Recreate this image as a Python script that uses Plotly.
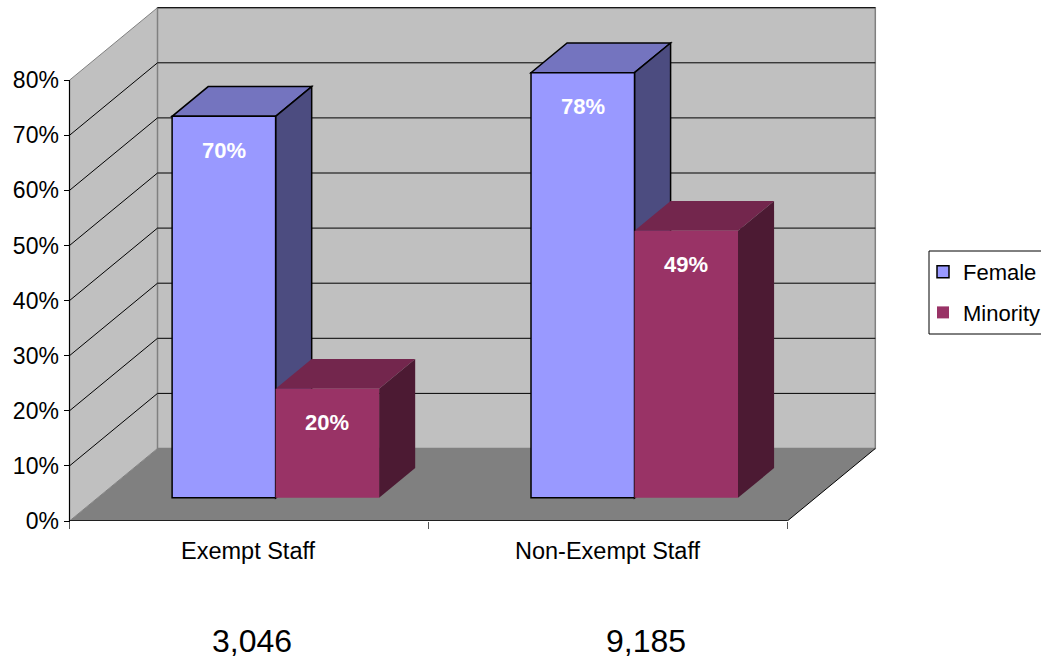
import plotly.graph_objects as go

# ---------------- data ----------------
categories = ["Exempt Staff", "Non-Exempt Staff"]
headcounts = ["3,046", "9,185"]
female = [70, 78]
minority = [20, 49]
series_names = ["Female", "Minority"]
y_ticks = [0, 10, 20, 30, 40, 50, 60, 70, 80]
y_tick_labels = [f"{v}%" for v in y_ticks]

# ---------------- styling / geometry ----------------
FONT = "Liberation Sans, Arial, sans-serif"
W, H = 1041, 658
ML, MR, MT, MB = 60, 150, 4, 137
plot_w = W - ML - MR
plot_h = H - MT - MB
bottom_px = H - MB

slot_px = 358.9          # width of one category slot on the front plane
front_left_px = 69.5     # pixel x of the front-left corner of the floor
x_range = [-0.5 + (ML - front_left_px) / slot_px,
           -0.5 + (W - MR - front_left_px) / slot_px]

py_wall = 5.51           # px per percent on the wall axis
py_bar = 5.45            # px per percent on the bar axis
y_range = [0, plot_h / py_wall]
y2_range = [0, plot_h / py_bar]

DEPTH_DX_PX, DEPTH_DY_PX = 88, 72.5
DX = DEPTH_DX_PX / slot_px
DY1 = DEPTH_DY_PX / py_wall
DY2 = DEPTH_DY_PX / py_bar

BAR_FRONT = 0.32         # depth fraction of the bars' front face
BAR_DEPTH = 0.41         # depth fraction of the bars
BAR_W = 103.5 / slot_px
PAIR_SHIFT = -1.5 / slot_px
YMAX = y_ticks[-1]

WALL = "#C0C0C0"
FLOOR = "#808080"
EDGE = "#808080"

colors = {
    "Female": dict(front="#9999FF", top="#7474BF", side="#4C4C80", line="black", lw=1.5),
    "Minority": dict(front="#993366", top="#73264D", side="#4C1A33", line="rgba(0,0,0,0)", lw=0),
}

shapes = []


def poly(pts, yref, fill, line_color="rgba(0,0,0,0)", lw=0, layer="below"):
    path = "M " + " L ".join(f"{x},{y}" for x, y in pts) + " Z"
    shapes.append(dict(type="path", path=path, xref="x", yref=yref, fillcolor=fill,
                       line=dict(color=line_color, width=lw), layer=layer))


def seg(p0, p1, yref, color, width=1, layer="below"):
    shapes.append(dict(type="line", xref="x", yref=yref, x0=p0[0], y0=p0[1], x1=p1[0], y1=p1[1],
                       line=dict(color=color, width=width), layer=layer))


xl, xr = -0.5, len(categories) - 0.5
# floor
poly([(xl, 0), (xr, 0), (xr + DX, DY1), (xl + DX, DY1)], "y", FLOOR)
# side wall
poly([(xl, 0), (xl + DX, DY1), (xl + DX, YMAX + DY1), (xl, YMAX)], "y", WALL, EDGE, 1)
# back wall
poly([(xl + DX, DY1), (xr + DX, DY1), (xr + DX, YMAX + DY1), (xl + DX, YMAX + DY1)], "y", WALL, EDGE, 1.5)
# gridlines
for v in y_ticks[1:]:
    if v < YMAX:
        seg((xl, v), (xl + DX, v + DY1), "y", "black", 1)
    seg((xl + DX, v + DY1), (xr + DX, v + DY1), "y", "black", 1)
# floor right edge, front axis lines
seg((xr, 0), (xr + DX, DY1), "y", "black", 1)
seg((xl, 0), (xr, 0), "y", "black", 1.5)
seg((xl, 0), (xl, YMAX), "y", "black", 1.2)

# ---------------- bars ----------------
B = BAR_FRONT * DY2
ddx, ddy = BAR_DEPTH * DX, BAR_DEPTH * DY2
series = {"Female": female, "Minority": minority}
offsets = {"Female": (-BAR_W, 0.0), "Minority": (0.0, BAR_W)}

fig = go.Figure()
annotations = []
for name in series_names:
    vals = series[name]
    c = colors[name]
    xs, bases = [], []
    for i, v in enumerate(vals):
        x0 = i + PAIR_SHIFT + offsets[name][0] + BAR_FRONT * DX
        x1 = i + PAIR_SHIFT + offsets[name][1] + BAR_FRONT * DX
        top = B + v
        # top face
        poly([(x0, top), (x1, top), (x1 + ddx, top + ddy), (x0 + ddx, top + ddy)], "y2",
             c["top"], c["line"], c["lw"])
        # side face
        poly([(x1, B), (x1, top), (x1 + ddx, top + ddy), (x1 + ddx, B + ddy)], "y2",
             c["side"], c["line"], c["lw"])
        xs.append((x0 + x1) / 2)
        bases.append(B)
        annotations.append(dict(x=(x0 + x1) / 2, y=top, xref="x", yref="y2", yshift=-34,
                                text=f"<b>{v}%</b>", showarrow=False, xanchor="center",
                                font=dict(family=FONT, size=22, color="white")))
    fig.add_trace(go.Bar(
        x=xs, y=vals, base=bases, width=BAR_W, name=name, yaxis="y2",
        legendgroup=name,
        marker=dict(color=c["front"], line=dict(color=c["line"] if c["lw"] else c["front"], width=c["lw"])),
        hoverinfo="skip",
    ))

# category labels and headcounts
headcount_x_px = [252, 645.5]
for i, cat in enumerate(categories):
    annotations.append(dict(x=i, y=(bottom_px - 551) / plot_h, xref="x", yref="paper",
                            text=cat, showarrow=False, xanchor="center", yanchor="middle",
                            font=dict(family=FONT, size=23.5, color="black")))
    annotations.append(dict(x=(headcount_x_px[i] - ML) / plot_w, y=(bottom_px - 641) / plot_h,
                            xref="paper", yref="paper", text=headcounts[i], showarrow=False,
                            xanchor="center", yanchor="middle",
                            font=dict(family=FONT, size=32, color="black")))

# legend border
shapes.append(dict(type="rect", xref="paper", yref="paper",
                   x0=(929 - ML) / plot_w, x1=(1060 - ML) / plot_w,
                   y0=(bottom_px - 334) / plot_h, y1=(bottom_px - 251) / plot_h,
                   line=dict(color="black", width=1), fillcolor="rgba(0,0,0,0)", layer="above"))

fig.update_layout(
    width=W, height=H,
    margin=dict(l=ML, r=MR, t=MT, b=MB, pad=0, autoexpand=False),
    paper_bgcolor="white", plot_bgcolor="rgba(0,0,0,0)",
    barmode="overlay",
    showlegend=True,
    legend=dict(x=(923 - ML) / plot_w, y=(bottom_px - 251) / plot_h, xanchor="left", yanchor="top",
                font=dict(family=FONT, size=22, color="black"), bgcolor="rgba(0,0,0,0)",
                borderwidth=0, traceorder="grouped", tracegroupgap=9),
    xaxis=dict(range=x_range, showgrid=False, zeroline=False, showline=False,
               tickvals=[-0.5 + k for k in range(len(categories) + 1)], ticks="outside",
               ticklen=7, tickcolor="#555", tickwidth=1, showticklabels=False, fixedrange=True),
    yaxis=dict(range=y_range, showgrid=False, zeroline=False, showline=False,
               anchor="free", position=(front_left_px - ML) / plot_w,
               tickvals=y_ticks, ticktext=y_tick_labels, ticks="outside", ticklen=6,
               tickcolor="black", tickfont=dict(family=FONT, size=23, color="black")),
    yaxis2=dict(range=y2_range, overlaying="y", visible=False),
    shapes=shapes,
    annotations=annotations,
    font=dict(family=FONT),
)

fig.write_html("out.html")
